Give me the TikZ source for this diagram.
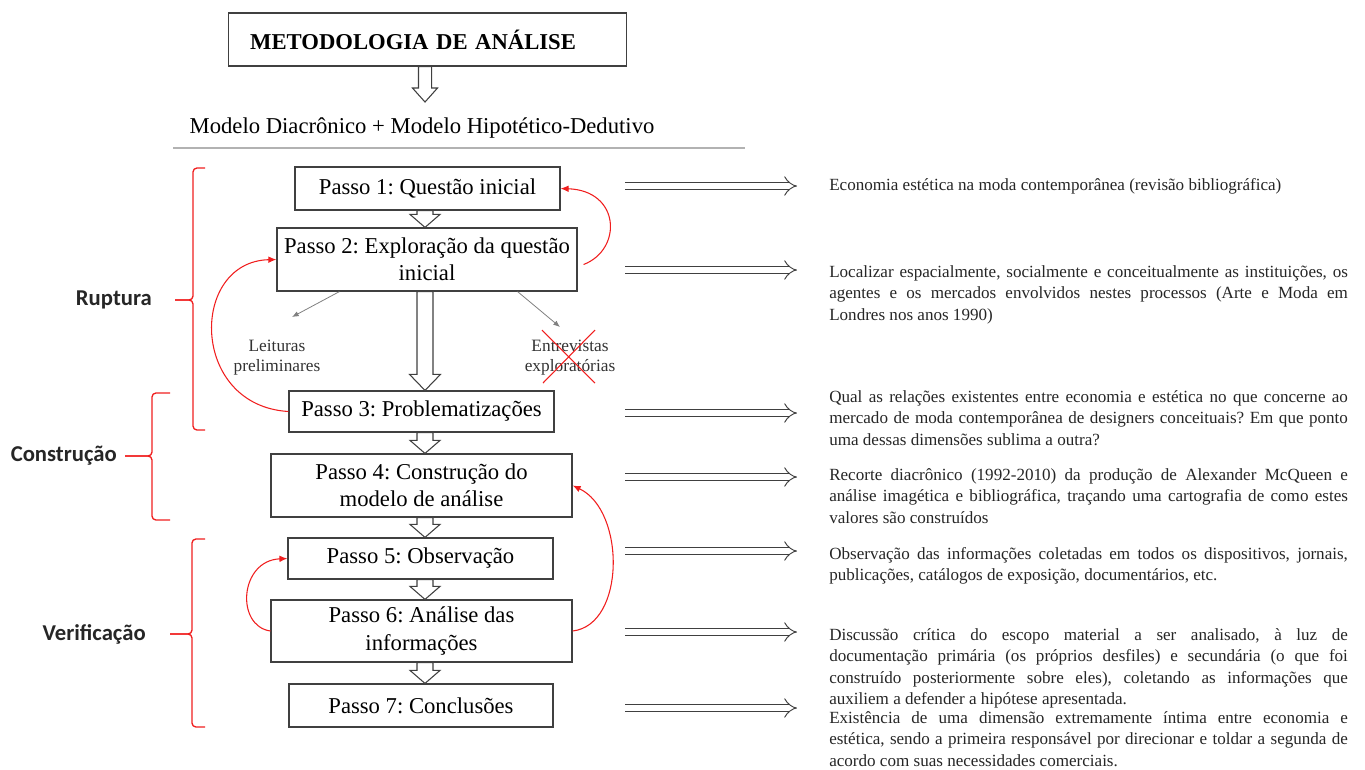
\documentclass[tikz,border=0pt]{standalone}
\usepackage{fontspec}
\setmainfont{Liberation Serif}
\newfontfamily\fasefont{Carlito}
\usetikzlibrary{calc,arrows.meta,positioning}
\frenchspacing

\definecolor{boxline}{HTML}{404040}
\definecolor{redline}{HTML}{F01E1E}

% hollow block arrow: from, to, half shaft, half head, head length
\newcommand{\hollowarrow}[5]{%
  \coordinate (ha-s) at (#1);
  \coordinate (ha-e) at (#2);
  \coordinate (ha-b) at ($(ha-e)!#5!(ha-s)$);
  \draw[hollow] ($(ha-s)!#3!90:(ha-e)$) -- ($(ha-b)!#3!90:(ha-e)$) -- ($(ha-b)!#4!90:(ha-e)$) -- (ha-e)
    -- ($(ha-b)!#4!-90:(ha-e)$) -- ($(ha-b)!#3!-90:(ha-e)$) -- ($(ha-s)!#3!-90:(ha-e)$) -- cycle;}

\tikzset{
  passo/.style={draw=boxline, line width=0.9pt, rectangle, align=center, inner sep=0pt,
    font=\fontsize{17}{20.5}\selectfont},
  hollow/.style={draw=boxline, line width=0.8pt, fill=white},
  rarrow/.style={draw=boxline, line width=0.7pt, double=white, double distance=4.5pt, -Implies},
  desc/.style={anchor=base west, text width=389pt, align=justify, inner sep=0pt, text=black!85,
    font=\fontsize{12.8}{16.2}\selectfont},
  fase/.style={anchor=east, inner sep=0pt, text=black!85,
    font=\fasefont\bfseries\fontsize{17}{20}\selectfont},
  feedback/.style={redline, line width=0.8pt, -{Latex[length=6pt,width=5pt]}},
  chave/.style={redline, line width=1pt, rounded corners=3pt},
  ramo/.style={gray, line width=0.6pt, -{Latex[length=5pt,width=4pt]}},
  nota/.style={align=center, inner sep=0pt, text=black!80, font=\fontsize{13}{15}\selectfont}
}

\begin{document}
\begin{tikzpicture}[x=0.75pt,y=-0.75pt]
\useasboundingbox (0,0) rectangle (1365,769);
\coordinate (col) at (425,0);

% titulo
\node[draw=boxline, line width=0.9pt, minimum height=39.75pt, text width=266pt, inner xsep=16.5pt,
  align=left, font=\bfseries\fontsize{17}{20}\selectfont] (titulo) at (427.5,39.5) {METODOLOGIA DE ANÁLISE};
\coordinate (m0) at (425,102);
\hollowarrow{titulo.south -| col}{m0}{4.9pt}{9.4pt}{10.5pt}
\node[inner sep=0pt, font=\fontsize{17}{20}\selectfont] (modelo) at (422,128) {Modelo Diacrônico + Modelo Hipotético-Dedutivo};
\draw[gray!60, line width=1pt] (173,148) -- (745,148);

% passos
\node[passo, minimum width=198.75pt, minimum height=32.25pt] (p1) at (427.5,188.5) {Passo 1: Questão inicial};
\node[passo, minimum width=225pt, minimum height=47.25pt] (p2) at (427,259.5) {Passo 2: Exploração da questão\\inicial};
\node[passo, minimum width=198.75pt, minimum height=30.75pt] (p3) at (421.5,411.5) {Passo 3: Problematizações};
\node[passo, minimum width=225.75pt, minimum height=47.25pt] (p4) at (421.5,485.5) {Passo 4: Construção do\\modelo de análise};
\node[passo, minimum width=198.75pt, minimum height=30.75pt] (p5) at (420.5,558.5) {Passo 5: Observação};
\node[passo, minimum width=225.75pt, minimum height=46.5pt] (p6) at (421.5,631) {Passo 6: Análise das\\informações};
\node[passo, minimum width=198pt, minimum height=32.25pt] (p7) at (421,705.5) {Passo 7: Conclusões};

\foreach \a/\b in {p1/p2,p3/p4,p4/p5,p5/p6,p6/p7}{
  \hollowarrow{\a.south -| col}{\b.north -| col}{6pt}{11.25pt}{9.75pt}
}
\hollowarrow{p2.south -| col}{p3.north -| col}{6pt}{11.6pt}{12pt}

% leituras e entrevistas
\node[nota] (leituras) at (277,358) {Leituras\\preliminares};
\node[nota] (entrevistas) at (570,358) {Entrevistas\\exploratórias};
\coordinate (lt) at (292,317);
\coordinate (et) at (560,327);
\draw[ramo] ([xshift=47.25pt]p2.south west) -- (lt);
\draw[ramo] ([xshift=-45pt]p2.south east) -- (et);
\draw[redline, line width=0.8pt] ([shift={(-28,-28)}]entrevistas.center) -- ([shift={(25,25)}]entrevistas.center)
  ([shift={(25,-28)}]entrevistas.center) -- ([shift={(-27,25)}]entrevistas.center);

% retornos
\draw[feedback] ([shift={(6,5)}]p2.east) .. controls +(39,-15) and +(60,2) .. (p1.east);
\draw[feedback] (p3.west) .. controls +(-99,-6) and +(-87,2) .. (p2.west);
\draw[feedback] (p6.east) .. controls +(53,-6) and +(53,25) .. (p4.east);
\draw[feedback] (p6.west) .. controls +(-35,-5) and +(-48,2) .. (p5.west);

% chaves
\foreach \yt/\ym/\yb/\xv/\xh/\xt in {168/300/430/193/205/175, 393/456/520/152/170/125, 539/634/727/192/205/170}{
  \draw[chave] (\xh,\yt) -- (\xv,\yt) -- (\xv,\ym) -- (\xt,\ym);
  \draw[chave] (\xh,\yb) -- (\xv,\yb) -- (\xv,\ym) -- (\xt,\ym);
}
\node[fase] (ruptura) at (152,300) {Ruptura};
\node[fase] (construcao) at (117,456) {Construção};
\node[fase] (verificacao) at (146,634) {Verificação};

% setas da direita
\foreach \i/\y in {1/186, 2/270, 3/413, 4/477, 5/551, 6/632, 7/708}{
  \coordinate (s\i) at (625,\y);
  \coordinate (e\i) at (797,\y);
  \draw[rarrow] (s\i) -- (e\i);
}

\node[desc] (t1) at (829,190) {Economia estética na moda contemporânea (revisão bibliográfica)};
\node[desc] (t2) at (829,277) {Localizar espacialmente, socialmente e conceitualmente as instituições, os\linebreak agentes e os mercados envolvidos nestes processos (Arte e Moda em\linebreak Londres nos anos 1990)};
\node[desc] (t3) at (829,402) {Qual as relações existentes entre economia e estética no que concerne ao\linebreak mercado de moda contemporânea de designers conceituais? Em que ponto\linebreak uma dessas dimensões sublima a outra?};
\node[desc] (t4) at (829,480) {Recorte diacrônico (1992-2010) da produção de Alexander McQueen e\linebreak análise imagética e bibliográfica, traçando uma cartografia de como estes\linebreak valores são construídos};
\node[desc] (t5) at (829,559) {Observação das informações coletadas em todos os dispositivos, jornais,\linebreak publicações, catálogos de exposição, documentários, etc.};
\node[desc] (t6) at (829,640) {Discussão crítica do escopo material a ser analisado, à luz de\linebreak documentação primária (os próprios desfiles) e secundária (o que foi\linebreak construído posteriormente sobre eles), coletando as informações que\linebreak auxiliem a defender a hipótese apresentada.};
\node[desc] (t7) at (829,723) {Existência de uma dimensão extremamente íntima entre economia e\linebreak estética, sendo a primeira responsável por direcionar e toldar a segunda de\linebreak acordo com suas necessidades comerciais.};
\end{tikzpicture}
\end{document}
